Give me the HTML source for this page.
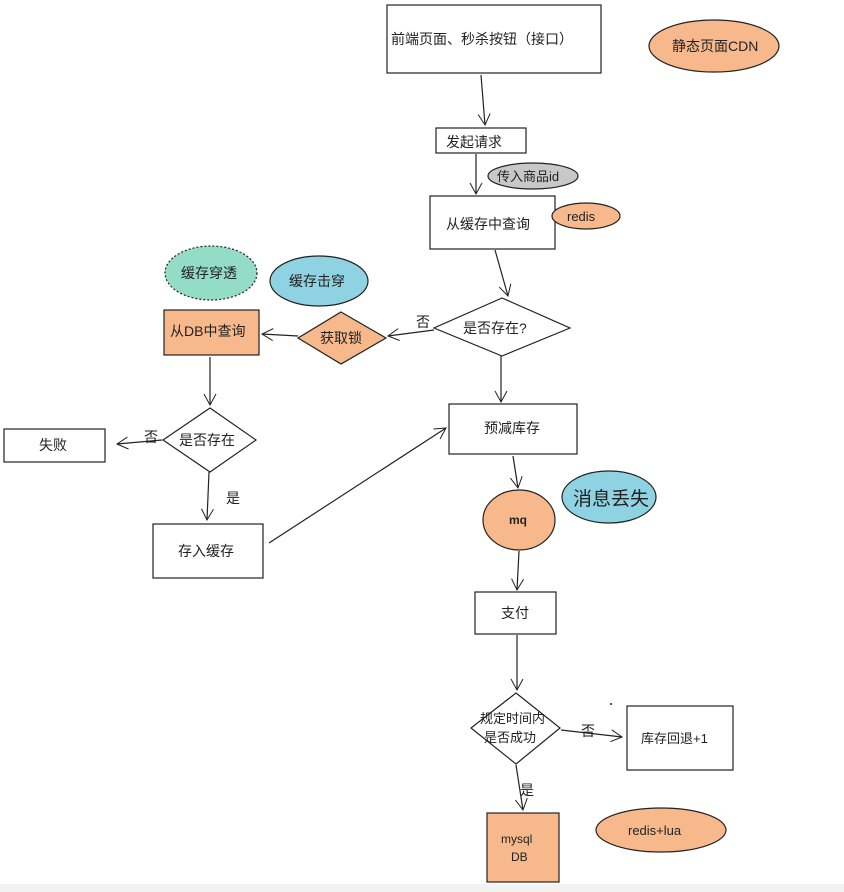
<!DOCTYPE html>
<html><head><meta charset="utf-8"><style>
html,body{margin:0;padding:0;background:#fff;}
svg{display:block;}
text{font-family:"Liberation Sans","Noto Sans CJK SC",sans-serif;font-size:14px;fill:#222;}
</style></head><body>
<svg width="844" height="892" viewBox="0 0 844 892" xmlns="http://www.w3.org/2000/svg">
<defs>
<marker id="a" markerWidth="14" markerHeight="14" refX="12" refY="7" orient="auto" markerUnits="userSpaceOnUse">
<path d="M1,1 L12,7 L1,13" fill="none" stroke="#222" stroke-width="1"/></marker>
</defs>
<rect x="0" y="884" width="844" height="8" fill="#f2f2f2"/>
<g stroke="#222" stroke-width="1.2" fill="none">
<!-- boxes -->
<rect x="387" y="5" width="214" height="68" fill="#fff"/>
<rect x="436" y="128" width="90" height="25" fill="#fff"/>
<rect x="430" y="196" width="125" height="53" fill="#fff"/>
<rect x="164" y="310" width="95" height="45" fill="#f7b98c"/>
<rect x="4" y="429" width="101" height="33" fill="#fff"/>
<rect x="449" y="404" width="128" height="50" fill="#fff"/>
<rect x="153" y="524" width="110" height="54" fill="#fff"/>
<rect x="475" y="592" width="81" height="42" fill="#fff"/>
<rect x="627" y="706" width="106" height="64" fill="#fff"/>
<rect x="487" y="813" width="72" height="69" fill="#f7b98c"/>
<!-- diamonds -->
<polygon points="502,298 570,328 502,356 434,328" fill="#fff"/>
<polygon points="341,312 386,338 341,364 298,338" fill="#f7b98c"/>
<polygon points="210,408 256,440 210,472 163,440" fill="#fff"/>
<polygon points="516,693 560,728 516,764 471,728" fill="#fff"/>
<!-- ellipses -->
<ellipse cx="714" cy="46" rx="65" ry="26" fill="#f7b98c"/>
<ellipse cx="533" cy="176" rx="45" ry="13" fill="#c8c8c8"/>
<ellipse cx="586" cy="216" rx="34" ry="13" fill="#f7b98c"/>
<ellipse cx="211" cy="273" rx="46" ry="27" fill="#93dcc6" stroke-dasharray="2,2"/>
<ellipse cx="319" cy="281" rx="49" ry="25" fill="#8fd3e2"/>
<ellipse cx="519" cy="520" rx="36" ry="30" fill="#f7b98c"/>
<ellipse cx="609" cy="497" rx="47" ry="26" fill="#8fd3e2"/>
<ellipse cx="661" cy="830" rx="65" ry="22" fill="#f7b98c"/>
<!-- connectors -->
<line x1="481" y1="75" x2="485" y2="125" marker-end="url(#a)"/>
<line x1="476" y1="154" x2="476" y2="194" marker-end="url(#a)"/>
<line x1="495" y1="250" x2="508" y2="296" marker-end="url(#a)"/>
<line x1="434" y1="330" x2="388" y2="336" marker-end="url(#a)"/>
<line x1="298" y1="336" x2="262" y2="334" marker-end="url(#a)"/>
<line x1="501" y1="356" x2="501" y2="402" marker-end="url(#a)"/>
<line x1="210" y1="357" x2="210" y2="405" marker-end="url(#a)"/>
<line x1="162" y1="440" x2="117" y2="444" marker-end="url(#a)"/>
<line x1="209" y1="472" x2="207" y2="520" marker-end="url(#a)"/>
<line x1="269" y1="543" x2="446" y2="428" marker-end="url(#a)"/>
<line x1="513" y1="456" x2="518" y2="488" marker-end="url(#a)"/>
<line x1="519" y1="551" x2="517" y2="590" marker-end="url(#a)"/>
<line x1="517" y1="635" x2="517" y2="690" marker-end="url(#a)"/>
<line x1="561" y1="730" x2="622" y2="737" marker-end="url(#a)"/>
<line x1="516" y1="765" x2="523" y2="810" marker-end="url(#a)"/>
</g>
<text x="391" y="44">前端页面、秒杀按钮（接口）</text>
<text x="672" y="51">静态页面CDN</text>
<text x="446" y="147">发起请求</text>
<text x="497" y="181" style="font-size:13px">传入商品id</text>
<text x="446" y="229">从缓存中查询</text>
<text x="567" y="221" style="font-size:13px">redis</text>
<text x="463" y="333">是否存在?</text>
<text x="416" y="327">否</text>
<text x="181" y="278">缓存穿透</text>
<text x="289" y="286">缓存击穿</text>
<text x="170" y="336">从DB中查询</text>
<text x="320" y="343">获取锁</text>
<text x="179" y="445">是否存在</text>
<text x="144" y="442">否</text>
<text x="39" y="450">失败</text>
<text x="226" y="503">是</text>
<text x="484" y="433">预减库存</text>
<text x="178" y="556">存入缓存</text>
<text x="573" y="505" style="font-size:19px">消息丢失</text>
<text x="509" y="524" style="font-size:12px;font-weight:bold">mq</text>
<text x="501" y="618">支付</text>
<text x="480" y="723" style="font-size:13px">规定时间内</text>
<text x="484" y="742" style="font-size:13px">是否成功</text>
<text x="581" y="736">否</text>
<text x="641" y="743" style="font-size:13px">库存回退+1</text>
<text x="520" y="795">是</text>
<text x="501" y="843" style="font-size:12px">mysql</text>
<text x="511" y="861" style="font-size:12px">DB</text>
<text x="628" y="835" style="font-size:13px">redis+lua</text>
<circle cx="611" cy="704" r="1" fill="#222"/>
</svg>
</body></html>
